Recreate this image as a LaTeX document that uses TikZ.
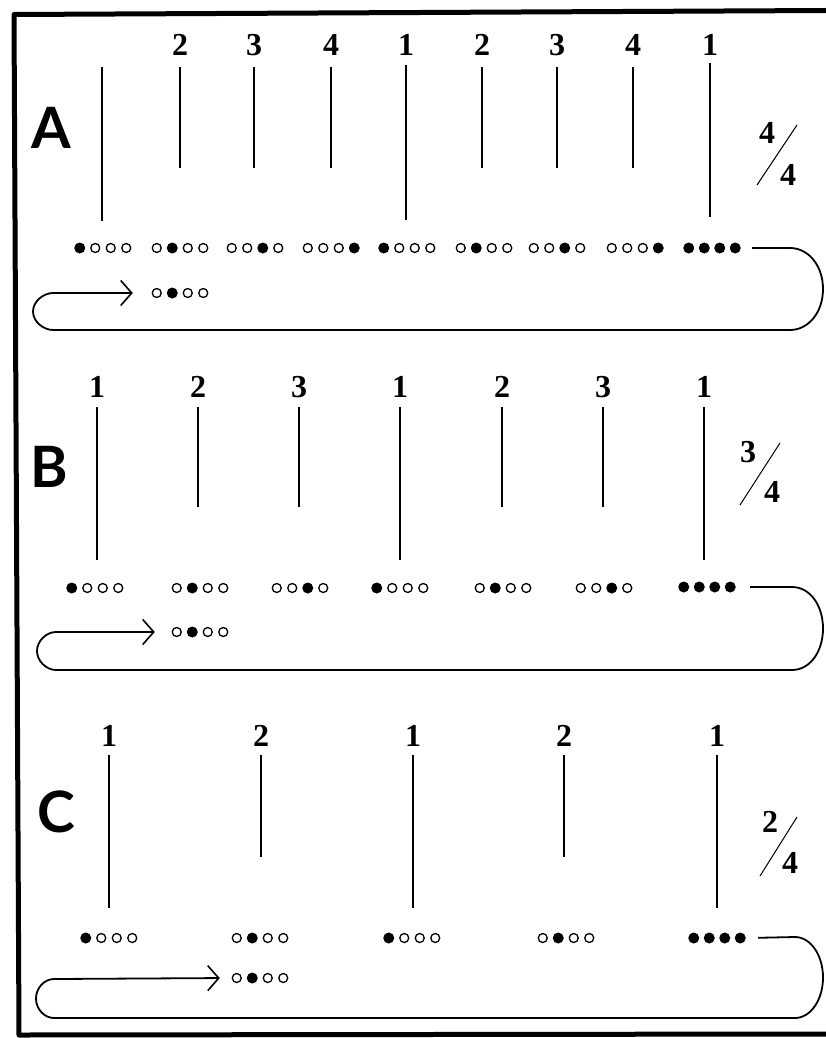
\documentclass[tikz,border=0pt]{standalone}
\usepackage{fontspec}
\setmainfont{Liberation Serif}
\newfontfamily\lettfont{Lato}
\usetikzlibrary{arrows.meta}
\tikzset{
  longbeat/.style={line width=1.8pt},
  shortbeat/.style={line width=1.4pt},
  num/.style={font=\bfseries\fontsize{32}{32}\selectfont, inner sep=0pt},
  letter/.style={font=\lettfont\bfseries\fontsize{57}{57}\selectfont, inner sep=0pt},
  loopline/.style={line width=1.8pt},
  grp/.style={minimum width=62pt, minimum height=10pt, inner sep=0pt},
  slash/.style={line width=1pt},
  barb/.style={-{Straight Barb[length=11pt,width=25pt,line width=1.6pt]}},
}
\newcommand\dgroup[4]{%
  \node[grp] (#1) at (#2,#3) {};
  \foreach \f [count=\i] in {#4} {%
    \ifnum\f=1
      \fill (#2+\i*15.5-38.75,#3) circle (5.5pt);
    \else
      \draw[line width=1.3pt] (#2+\i*15.5-38.75,#3) circle (4.5pt);
    \fi
  }%
}
\begin{document}
\begin{tikzpicture}[x=1pt,y=-1pt]
\useasboundingbox (0,0) rectangle (826,1038);
\fill[white] (0,0) rectangle (826,1038);
% border
\draw[line width=5pt, line join=round] (826,10.5) -- (14,14.5) -- (19,1035) -- (826,1034);

% ================= A =================
\node[letter] (LA) at (51,128) {A};
\foreach \x/\n in {180/2,254/3,331/4,406/1,482/2,557/3,633/4,710/1} {
  \node[num] (nA\x) at (\x,45) {\n};
}
\draw[longbeat] (102,67) -- (102,221);
\foreach \x in {180,254,331,482,557,633} \draw[shortbeat] (\x,67) -- (\x,168);
\draw[longbeat] (406,65) -- (406,220);
\draw[longbeat] (710,63) -- (710,217);
\dgroup{a1}{103}{248}{1,0,0,0}
\dgroup{a2}{180}{248}{0,1,0,0}
\dgroup{a3}{255}{248}{0,0,1,0}
\dgroup{a4}{331}{248}{0,0,0,1}
\dgroup{a5}{407}{248}{1,0,0,0}
\dgroup{a6}{484}{248}{0,1,0,0}
\dgroup{a7}{557}{248}{0,0,1,0}
\dgroup{a8}{635}{248}{0,0,0,1}
\dgroup{a9}{712}{248}{1,1,1,1}
\dgroup{ar}{180}{293}{0,1,0,0}
\draw[loopline, barb, shorten <=9pt, shorten >=16pt] (a9.east) -- (790,248)
  .. controls (808.2,248) and (823,265.4) .. (823,289)
  .. controls (823,312.6) and (808.2,330) .. (790,330)
  -- (53,330)
  .. controls (43.6,330) and (33,321.7) .. (33,311.5)
  .. controls (33,301.3) and (43.6,293) .. (53,293)
  -- (ar.west);
\node[num] (tA1) at (767,133) {4};
\node[num] (tA2) at (788,175) {4};
\draw[slash] (757,185) -- (797,125);

% ================= B =================
\node[letter] (LB) at (49,467) {B};
\foreach \x/\n in {97/1,198/2,299/3,400/1,502/2,603/3,704/1} {
  \node[num] (nB\x) at (\x,387) {\n};
}
\foreach \x in {97,400,704} \draw[longbeat] (\x,407) -- (\x,560);
\foreach \x in {198,299,502,603} \draw[shortbeat] (\x,407) -- (\x,507);
\dgroup{b1}{95}{588}{1,0,0,0}
\dgroup{b2}{200}{588}{0,1,0,0}
\dgroup{b3}{300}{588}{0,0,1,0}
\dgroup{b4}{400}{588}{1,0,0,0}
\dgroup{b5}{503}{588}{0,1,0,0}
\dgroup{b6}{604}{588}{0,0,1,0}
\dgroup{b7}{707}{587}{1,1,1,1}
\dgroup{br}{200}{632}{0,1,0,0}
\draw[loopline, barb, shorten <=12pt, shorten >=14pt] (b7.east) -- (792,587)
  .. controls (810.2,587) and (823,605.7) .. (823,628.5)
  .. controls (823,651.3) and (810.2,670) .. (792,670)
  -- (56,670)
  .. controls (46.6,670) and (37,661.2) .. (37,651)
  .. controls (37,640.8) and (46.6,632) .. (56,632)
  -- (br.west);
\node[num] (tB1) at (748,452) {3};
\node[num] (tB2) at (772,492) {4};
\draw[slash] (740,505) -- (780,443);

% ================= C =================
\node[letter] (LC) at (56,812) {C};
\foreach \x/\n in {109/1,261/2,413/1,564/2,717/1} {
  \node[num] (nC\x) at (\x,736) {\n};
}
\foreach \x in {109,413,717} \draw[longbeat] (\x,755) -- (\x,908);
\foreach \x in {261,564} \draw[shortbeat] (\x,755) -- (\x,857);
\dgroup{c1}{109}{938}{1,0,0,0}
\dgroup{c2}{260}{938}{0,1,0,0}
\dgroup{c3}{412}{938}{1,0,0,0}
\dgroup{c4}{566}{938}{0,1,0,0}
\dgroup{c5}{717}{938}{1,1,1,1}
\dgroup{cr}{260}{978}{0,1,0,0}
\draw[loopline, barb, shorten <=10pt, shorten >=9pt] (c5.east) -- (795,937)
  .. controls (810.5,937) and (823,955.1) .. (823,977.5)
  .. controls (823,999.9) and (810.5,1018) .. (795,1018)
  -- (54,1018)
  .. controls (44.6,1018) and (36,1009.3) .. (36,998.5)
  .. controls (36,987.7) and (44.6,979) .. (54,979)
  -- (cr.west);
\node[num] (tC1) at (770,822) {2};
\node[num] (tC2) at (790,863) {4};
\draw[slash] (760,876) -- (797,817);
\end{tikzpicture}
\end{document}
